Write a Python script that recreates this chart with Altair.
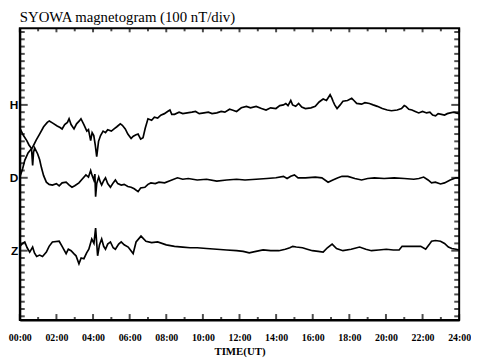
import json
import altair as alt
import pandas as pd

# ---------------- data ----------------
TITLE_LEFT = "SYOWA  magnetogram (100 nT/div)"
TITLE_RIGHT = "03 Feb.2004 (DAY:034)"
X_TITLE = "TIME(UT)"
X_TICK_HOURS = list(range(0, 25, 2))
X_TICK_LABELS = ["00:00", "02:00", "04:00", "06:00", "08:00", "10:00", "12:00",
                 "14:00", "16:00", "18:00", "20:00", "22:00", "24:00"]
COMPONENTS = ["H", "D", "Z"]
BASES = [200, 100, 0]          # nT offset of each trace (100 nT per division)
Y_DOMAIN = [-95, 305]
X_DOMAIN = [0, 24]

H_T = [0, 0.15, 0.27, 0.45, 0.70, 0.9, 1.08, 1.3, 1.5, 1.61, 1.8, 2.04, 2.2, 2.31,
       2.45, 2.6, 2.69, 2.8, 2.96, 3.1, 3.25, 3.34, 3.5, 3.66, 3.75, 3.87, 3.95,
       4.04, 4.12, 4.20, 4.3, 4.41, 4.55, 4.68, 4.8, 5.00, 5.15, 5.3, 5.49, 5.6,
       5.76, 5.9, 6.08, 6.2, 6.35, 6.46, 6.6, 6.73, 6.85, 7.00, 7.2, 7.35, 7.53,
       7.7, 7.9, 8.07, 8.2, 8.3, 8.45, 8.7, 8.9, 9.15, 9.4, 9.6, 9.8, 10.06, 10.3,
       10.5, 10.76, 11.0, 11.2, 11.46, 11.6, 11.84, 12.1, 12.38, 12.6, 12.91, 13.2,
       13.45, 13.7, 13.99, 14.2, 14.4, 14.53, 14.65, 14.80, 14.9, 15.07, 15.23,
       15.4, 15.60, 15.9, 16.14, 16.35, 16.57, 16.75, 16.95, 17.05, 17.11, 17.2,
       17.33, 17.5, 17.65, 17.9, 18.13, 18.25, 18.40, 18.67, 18.85, 19.10, 19.3,
       19.53, 19.8, 20.07, 20.3, 20.61, 20.85, 21.0, 21.09, 21.25, 21.42, 21.6,
       21.79, 22.0, 22.22, 22.4, 22.55, 22.71, 22.85, 23.03, 23.2, 23.35, 23.51,
       23.7, 23.83, 24.0]
H_V = [-99, -88, -76, -66, -58, -48, -40, -30, -24, -22, -25, -29, -31, -33,
       -27, -24, -19, -27, -33, -26, -22, -19, -27, -36, -34, -49, -38,
       -42, -55, -71, -50, -42, -36, -38, -34, -36, -33, -30, -26, -28,
       -33, -40, -46, -43, -41, -40, -47, -45, -32, -19, -21, -17, -18,
       -14, -12, -9, -7, -13, -13, -10, -12, -11, -10, -9, -12, -11, -10,
       -12, -11, -9, -10, -6, -7, -9, -4, -2, -4, -2, -5,
       -7, -4, -5, -1, 0, 2, -1, 6, 0, -2, 2,
       -3, -5, -4, -2, 4, 8, 6, 14, 9, 5, 0,
       -5, 0, 5, 6, 9, 6, 2, 1, 3, 2, 0,
       -2, -5, -7, -8, -7, -5, -1, -2, -6, -7, -9,
       -11, -9, -11, -10, -14, -15, -12, -13, -14, -12, -11,
       -10, -11, -12]

D_T = [0, 0.2, 0.38, 0.5, 0.64, 0.70, 0.75, 0.81, 0.97, 1.08, 1.18, 1.3, 1.45, 1.6,
       1.78, 2.0, 2.15, 2.31, 2.53, 2.7, 2.85, 3.0, 3.23, 3.4, 3.61, 3.75, 3.87,
       3.95, 4.04, 4.1, 4.14, 4.2, 4.31, 4.4, 4.47, 4.58, 4.68, 4.8, 4.95, 5.1,
       5.22, 5.35, 5.54, 5.7, 5.9, 6.08, 6.25, 6.46, 6.6, 6.83, 7.0, 7.16, 7.4,
       7.6, 7.91, 8.2, 8.61, 8.9, 9.2, 9.69, 10.2, 10.76, 11.3, 11.84, 12.3, 12.91,
       13.5, 13.99, 14.4, 14.6, 14.80, 15.0, 15.2, 15.60, 16.14, 16.5, 16.84,
       17.1, 17.38, 17.6, 17.92, 18.3, 18.67, 19.0, 19.37, 19.9, 20.45, 21.0,
       21.52, 21.8, 22.06, 22.3, 22.49, 22.7, 22.98, 23.2, 23.51, 23.83, 24.0]
D_V = [68, 58, 51, 45, 40, 17, 35, 41, 33, 25, 14, 3, -6, -9,
       -10, -8, -11, -7, -6, -10, -13, -11, -7, -2, 4, 1, 10,
       3, -3, 5, -26, -8, 1, -6, -10, -4, 0, -8, -13, -7,
       -3, -8, -10, -9, -12, -13, -15, -19, -14, -13, -9, -7, -8,
       -6, -7, -4, 0, -2, -1, -3, -2, -4.5, -3, -2, -3, -2,
       -1, 0, 2, -1, 2, 4, 0, 0, 1, 0, -6,
       -3, 0, 2, 2, -1, -3, -1, 0, -1, 0, -1,
       -2, -1, 1, -3, -7, -6, -8.5, -7, -3, 0, 0]

Z_T = [0, 0.15, 0.27, 0.4, 0.54, 0.70, 0.8, 0.92, 1.08, 1.24, 1.45, 1.6, 1.78, 2.15,
       2.31, 2.53, 2.65, 2.80, 2.95, 3.07, 3.23, 3.35, 3.50, 3.65, 3.77, 3.93,
       4.05, 4.14, 4.25, 4.35, 4.47, 4.58, 4.68, 4.8, 4.95, 5.1, 5.22, 5.4, 5.54,
       5.7, 5.92, 6.19, 6.35, 6.62, 6.89, 7.2, 7.53, 8.0, 8.45, 8.9, 9.3, 9.69,
       10.2, 10.76, 11.3, 11.84, 12.2, 12.53, 12.9, 13.29, 13.7, 14.15, 14.5,
       14.75, 14.91, 15.1, 15.44, 15.7, 15.98, 16.3, 16.57, 16.8, 17.06, 17.3,
       17.65, 18.1, 18.56, 18.9, 19.21, 19.6, 20.02, 20.4, 20.72, 20.88, 21.3,
       21.90, 22.17, 22.35, 22.49, 22.7, 22.98, 23.2, 23.41, 23.6, 23.83, 24.0]
Z_V = [6, 10, 12, 4, -2, 5, -3, -8, -6, -8, -2, 6, 12, 13,
       6, -4, 2, 0, -4, -7, -18, -10, -11, -3, 2, 16,
       10, 31, -7, 8, 16, 6, 2, 9, 12, 4, 2, 9, 12,
       8, 5, -4, 12, 20, 13, 11, 12, 8, 6, 5, 4, 4,
       3, 2, 1, 0, -1, -3, -1, 1, 0, 0, 2,
       4, 6, 5, 4, 2, 0, -1, -2, 4, 9, 3,
       0, 2, 5, 2, 0, 1, 2, 1, 1, 6, 6,
       6, 2, 8, 13, 14, 13, 10, 5, 3, 2, 1]

Y_MINOR_TICKS = [v for v in range(-90, 301, 10) if v not in BASES]
X_MAJOR_HOURS = list(range(0, 25, 2))
X_MINOR_HOURS = list(range(1, 24, 2))

# ---------------- build tables ----------------
rows = []
for comp, base, ts, vs in zip(COMPONENTS, BASES, [H_T, D_T, Z_T], [H_V, D_V, Z_V]):
    for t, v in zip(ts, vs):
        rows.append({"comp": comp, "t": t, "v": base + v})
lines_df = pd.DataFrame(rows)

W, HGT = 446, 296
XS = alt.Scale(domain=X_DOMAIN, nice=False, zero=False)
YS = alt.Scale(domain=Y_DOMAIN, nice=False, zero=False)

lbl_lookup = json.dumps(dict(zip([str(h) for h in X_TICK_HOURS], X_TICK_LABELS)))
X_AXIS = alt.Axis(values=X_TICK_HOURS, labelExpr=f"{lbl_lookup}[''+datum.value]",
                  ticks=False, grid=False, domainColor="black", domainWidth=2,
                  labelFont="Liberation Serif", labelFontWeight="bold", labelFontSize=10,
                  labelColor="black", labelPadding=13, labelFlush=False, labelOverlap=False,
                  title=X_TITLE, titleFont="Liberation Serif", titleFontSize=11,
                  titleFontWeight="bold", titleColor="black", titlePadding=3)
comp_expr = " : ".join(f"datum.value == {b} ? '{c}'" for c, b in zip(COMPONENTS, BASES)) + " : ''"
Y_AXIS = alt.Axis(values=BASES, labelExpr=comp_expr, ticks=False, grid=False,
                  domainColor="black", domainWidth=2, labelFont="Liberation Sans",
                  labelFontWeight="bold", labelFontSize=12, labelColor="black",
                  labelPadding=2, title=None)

lines = alt.Chart(lines_df).mark_line(color="black", strokeWidth=1.7).encode(
    x=alt.X("t:Q", scale=XS, axis=X_AXIS),
    y=alt.Y("v:Q", scale=YS, axis=Y_AXIS),
    detail="comp:N",
)


def ytick(yvals, at, size, off):
    df = pd.DataFrame({"t": [at] * len(yvals), "v": yvals})
    return alt.Chart(df).mark_tick(
        color="#000000", thickness=2, size=size, orient="horizontal", xOffset=off
    ).encode(x=alt.X("t:Q", scale=XS, axis=X_AXIS), y=alt.Y("v:Q", scale=YS, axis=Y_AXIS))


def xtick(hours, at, size, off):
    df = pd.DataFrame({"t": hours, "v": [at] * len(hours)})
    return alt.Chart(df).mark_tick(
        color="#000000", thickness=2, size=size, orient="vertical", yOffset=off
    ).encode(x=alt.X("t:Q", scale=XS, axis=X_AXIS), y=alt.Y("v:Q", scale=YS, axis=Y_AXIS))


tick_layers = [
    ytick(Y_MINOR_TICKS, X_DOMAIN[0], 5, 2.5), ytick(BASES, X_DOMAIN[0], 8, 4),
    ytick(Y_MINOR_TICKS, X_DOMAIN[1], 5, -2.5), ytick(BASES, X_DOMAIN[1], 8, -4),
    xtick(X_MAJOR_HOURS, Y_DOMAIN[0], 6, -3), xtick(X_MINOR_HOURS, Y_DOMAIN[0], 3, -1.5),
    xtick(X_MAJOR_HOURS, Y_DOMAIN[1], 4, 2), xtick(X_MINOR_HOURS, Y_DOMAIN[1], 3, 1.5),
]

tl = alt.Chart(pd.DataFrame({"txt": [TITLE_LEFT]})).mark_text(
    font="Liberation Serif", fontSize=15, align="left", color="black"
).encode(text="txt:N", x=alt.value(0), y=alt.value(-11))

chart = alt.layer(lines, *tick_layers, tl).properties(
    width=W, height=HGT,
    autosize=alt.AutoSizeParams(type="none"),
    padding={"left": 12, "top": 18, "right": 12, "bottom": 38},
    background="white",
    title=alt.TitleParams(TITLE_RIGHT, anchor="end", font="Liberation Serif", fontSize=15,
                          fontWeight="normal", color="black", baseline="alphabetic",
                          offset=7, frame="group"),
).configure_view(stroke="black", strokeWidth=2)

chart.save("out.html", embed_options={"renderer": "svg", "actions": False})
